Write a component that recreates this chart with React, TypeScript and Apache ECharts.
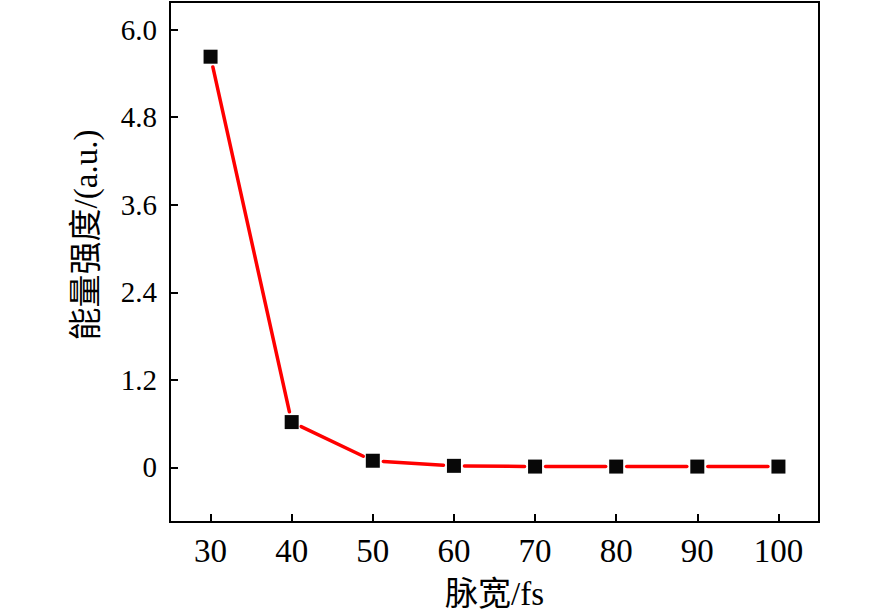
import React, { useEffect, useRef } from "react";
import * as echarts from "echarts";

const pulseWidths = [30, 40, 50, 60, 70, 80, 90, 100];
const energyValues = [5.63, 0.62, 0.09, 0.02, 0.01, 0.01, 0.01, 0.01];
const xTicks = [30, 40, 50, 60, 70, 80, 90, 100];
const yTicks = [0, 1.2, 2.4, 3.6, 4.8, 6.0];
const yTickLabels = ["0", "1.2", "2.4", "3.6", "4.8", "6.0"];
const xTitle = "脉宽/fs";
const yTitle = "能量强度/(a.u.)";

const FONT = "Liberation Serif, Noto Sans CJK SC";
const GAP = 10.5;

export default function App() {
  const ref = useRef<HTMLDivElement>(null);
  useEffect(() => {
    if (!ref.current) return;
    const chart = echarts.init(ref.current, undefined, { renderer: "svg" });
    const points = pulseWidths.map((x, i) => [x, energyValues[i]]);
    const segments = points.slice(0, -1).map((p, i) => [p[0], p[1], points[i + 1][0], points[i + 1][1]]);
    chart.setOption({
      animation: false,
      backgroundColor: "#ffffff",
      grid: {
        left: 170,
        right: 67,
        top: 2,
        bottom: 92,
        show: true,
        borderColor: "#000",
        borderWidth: 2,
        backgroundColor: "transparent",
      },
      graphic: [
        {
          type: "text",
          x: 86,
          y: 235,
          rotation: Math.PI / 2,
          style: {
            text: yTitle,
            fontFamily: FONT,
            fontSize: 33,
            fill: "#000",
            textAlign: "center",
            textVerticalAlign: "middle",
          },
        },
      ],
      xAxis: {
        type: "value",
        min: 25,
        max: 105,
        name: xTitle,
        nameLocation: "middle",
        nameGap: 55,
        nameTextStyle: { fontFamily: FONT, fontSize: 33, color: "#000" },
        axisLine: { show: true, onZero: false, lineStyle: { color: "#000", width: 2 } },
        axisTick: {
          show: true,
          inside: true,
          length: 8,
          customValues: xTicks,
          lineStyle: { color: "#000", width: 2 },
        },
        axisLabel: {
          customValues: xTicks,
          margin: 12,
          fontFamily: FONT,
          fontSize: 33,
          color: "#000",
        },
        splitLine: { show: false },
      },
      yAxis: {
        type: "value",
        min: -0.75,
        max: 6.38,
        axisLine: { show: true, onZero: false, lineStyle: { color: "#000", width: 2 } },
        axisTick: {
          show: true,
          inside: true,
          length: 8,
          customValues: yTicks,
          lineStyle: { color: "#000", width: 2 },
        },
        axisLabel: {
          customValues: yTicks,
          margin: 13,
          fontFamily: FONT,
          fontSize: 29,
          color: "#000",
          formatter: (v: number) => {
            const i = yTicks.findIndex((t) => Math.abs(t - v) < 1e-6);
            return i >= 0 ? yTickLabels[i] : "";
          },
        },
        splitLine: { show: false },
      },
      series: [
        {
          type: "custom",
          data: segments,
          encode: { x: [0, 2], y: [1, 3] },
          renderItem: (params: any, api: any) => {
            const a = api.coord([api.value(0), api.value(1)]);
            const b = api.coord([api.value(2), api.value(3)]);
            const dx = b[0] - a[0];
            const dy = b[1] - a[1];
            const len = Math.sqrt(dx * dx + dy * dy);
            if (len <= 2 * GAP) return null;
            const ux = dx / len;
            const uy = dy / len;
            return {
              type: "line",
              shape: {
                x1: a[0] + ux * GAP,
                y1: a[1] + uy * GAP,
                x2: b[0] - ux * GAP,
                y2: b[1] - uy * GAP,
              },
              style: { stroke: "#ff0000", lineWidth: 3.5, lineCap: "round" },
            };
          },
          z: 2,
        },
        {
          type: "scatter",
          data: points,
          symbol: "rect",
          symbolSize: 14,
          itemStyle: { color: "#080808", opacity: 1 },
          z: 3,
        },
      ],
    });
    return () => chart.dispose();
  }, []);
  return (
    <div
      ref={ref}
      style={{ position: "fixed", left: 0, top: 0, width: 886, height: 615, background: "#fff" }}
    />
  );
}
